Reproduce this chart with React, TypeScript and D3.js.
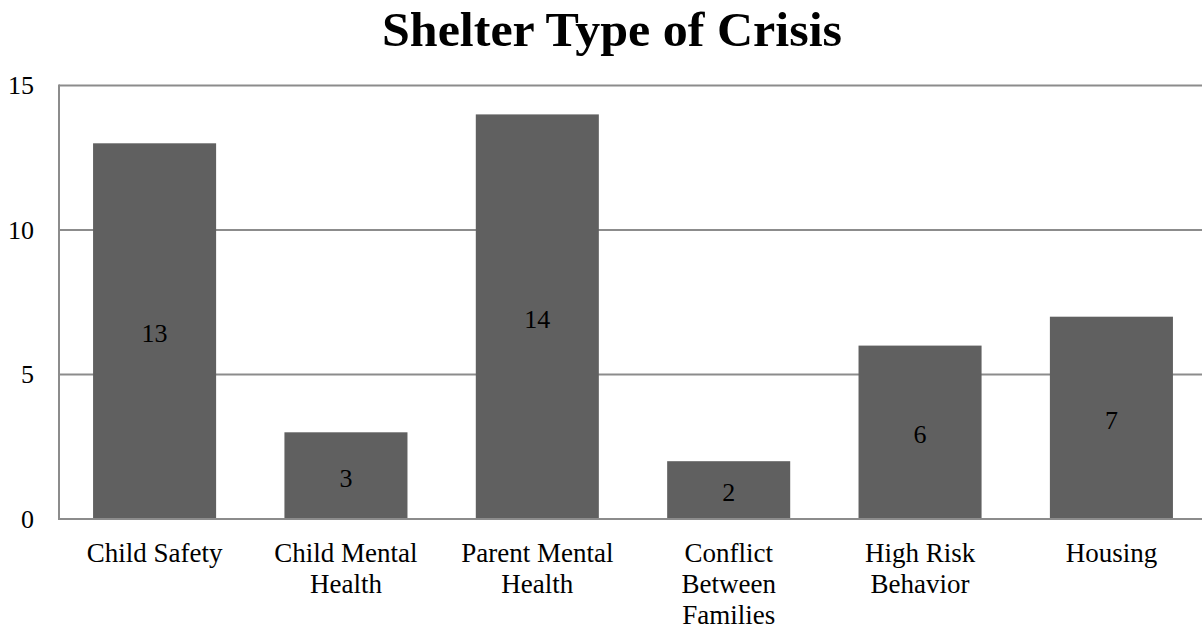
import { useEffect, useRef } from "react";
import * as d3 from "d3";

const categories = [
  ["Child Safety"],
  ["Child Mental", "Health"],
  ["Parent Mental", "Health"],
  ["Conflict", "Between", "Families"],
  ["High Risk", "Behavior"],
  ["Housing"],
];
const values = [13, 3, 14, 2, 6, 7];
const yTicks = [0, 5, 10, 15];

const W = 1202;
const H = 630;
const FONT = "'Liberation Serif', 'DejaVu Serif', serif";

export default function App() {
  const svgRef = useRef<SVGSVGElement>(null);

  useEffect(() => {
    if (!svgRef.current) return;
    const svg = d3.select(svgRef.current);
    svg.selectAll("*").remove();

    const left = 59;
    const right = 1207;
    const top = 85.5;
    const bottom = 519;

    const keys = categories.map((c) => c.join(" "));
    const x = d3
      .scaleBand()
      .domain(keys)
      .range([left, right])
      .paddingInner(0.357)
      .paddingOuter(0.178);
    const y = d3.scaleLinear().domain([0, 15]).range([bottom, top]);

    svg
      .append("text")
      .attr("x", 612)
      .attr("y", 46)
      .attr("text-anchor", "middle")
      .attr("font-family", FONT)
      .attr("font-weight", "bold")
      .attr("font-size", 48)
      .attr("textLength", 460)
      .attr("lengthAdjust", "spacingAndGlyphs")
      .text("Shelter Type of Crisis");

    // gridlines
    svg
      .append("g")
      .selectAll("line")
      .data(yTicks)
      .join("line")
      .attr("x1", left)
      .attr("x2", W)
      .attr("y1", (d) => y(d))
      .attr("y2", (d) => y(d))
      .attr("stroke", "#8c8c8c")
      .attr("stroke-width", 2);

    // y axis line
    svg
      .append("line")
      .attr("x1", left)
      .attr("x2", left)
      .attr("y1", y(15) - 1)
      .attr("y2", y(0) + 1)
      .attr("stroke", "#8c8c8c")
      .attr("stroke-width", 2);

    svg
      .append("g")
      .selectAll("text")
      .data(yTicks)
      .join("text")
      .attr("x", 34)
      .attr("y", (d) => y(d) + 8.5)
      .attr("text-anchor", "end")
      .attr("font-family", FONT)
      .attr("font-size", 26)
      .text((d) => d);

    const bars = svg.append("g");
    keys.forEach((k, i) => {
      const v = values[i];
      bars
        .append("rect")
        .attr("x", x(k)!)
        .attr("y", y(v))
        .attr("width", x.bandwidth())
        .attr("height", y(0) - y(v))
        .attr("fill", "#606060");
      bars
        .append("text")
        .attr("x", x(k)! + x.bandwidth() / 2)
        .attr("y", (y(v) + y(0)) / 2 + 11)
        .attr("text-anchor", "middle")
        .attr("font-family", FONT)
        .attr("font-size", 26)
        .attr("fill", "#000")
        .text(v);
    });

    // baseline over bars
    svg
      .append("line")
      .attr("x1", left)
      .attr("x2", W)
      .attr("y1", y(0))
      .attr("y2", y(0))
      .attr("stroke", "#8c8c8c")
      .attr("stroke-width", 2);

    const cat = svg.append("g");
    categories.forEach((lines, i) => {
      const cx = x(keys[i])! + x.bandwidth() / 2;
      lines.forEach((ln, j) => {
        cat
          .append("text")
          .attr("x", cx)
          .attr("y", 562 + j * 31)
          .attr("text-anchor", "middle")
          .attr("font-family", FONT)
          .attr("font-size", 27)
          .text(ln);
      });
    });
  }, []);

  return (
    <svg
      ref={svgRef}
      width={W}
      height={H}
      style={{ position: "absolute", left: 0, top: 0, background: "#fff" }}
    />
  );
}
